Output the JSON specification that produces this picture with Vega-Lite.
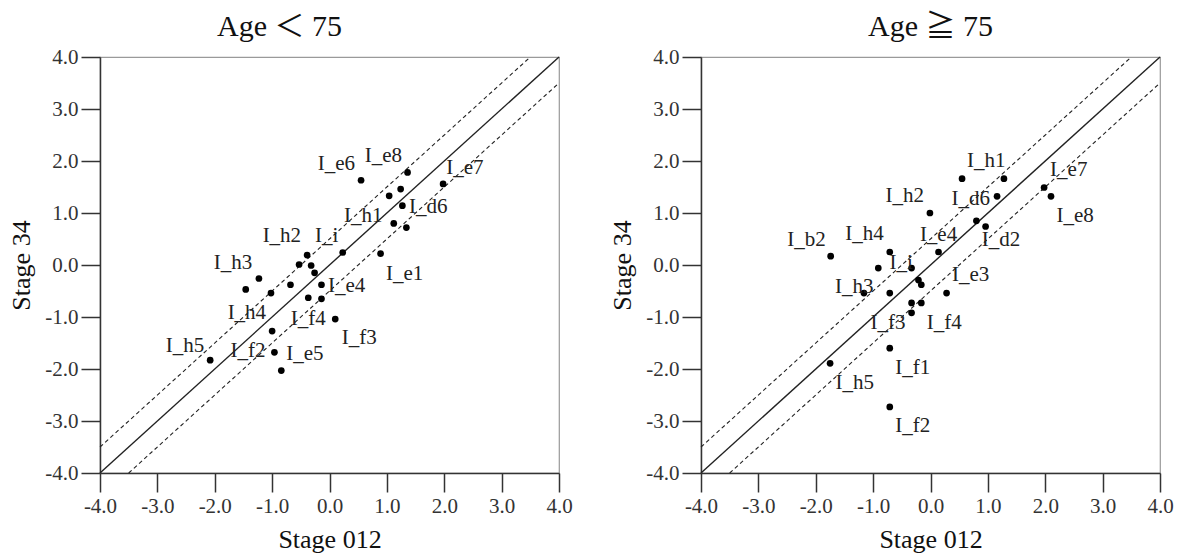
{
  "$schema": "https://vega.github.io/schema/vega-lite/v6.json",
  "background": "white",
  "padding": {"left": 8, "right": 5, "top": 11, "bottom": 3},
  "config": {
    "font": "Liberation Serif",
    "view": {"stroke": "#9a9a9a", "strokeWidth": 1.2},
    "axis": {"grid": false, "labelFlush": false, "labelExpr": "replace(datum.label, '−', '-')", "domainColor": "#333", "tickColor": "#333", "tickSize": 19, "tickWidth": 1.5, "domainWidth": 1.5, "labelFontSize": 21, "labelColor": "#333", "labelFont": "Liberation Serif", "labelPadding": 3, "titleFontSize": 26, "titleFontWeight": "normal", "titleColor": "#111", "titleFont": "Liberation Serif"},
    "axisX": {"titlePadding": 10},
    "axisY": {"titlePadding": 10},
    "title": {"font": "Liberation Serif, Noto Sans CJK TC", "fontSize": 30, "fontWeight": "normal", "color": "#111", "offset": 0},
    "concat": {"spacing": 36}
  },
  "datasets": {
    "lines": [
      {"line": "y=x", "x": -4, "y": -4}, {"line": "y=x", "x": 4, "y": 4},
      {"line": "y=x+0.5", "x": -4, "y": -3.5}, {"line": "y=x+0.5", "x": 3.5, "y": 4},
      {"line": "y=x-0.5", "x": -3.5, "y": -4}, {"line": "y=x-0.5", "x": 4, "y": 3.5}
    ],
    "points": [
      {"group": "lt75", "x": 0.55, "y": 1.63}, {"group": "lt75", "x": 1.36, "y": 1.78}, {"group": "lt75", "x": 1.24, "y": 1.46},
      {"group": "lt75", "x": 1.04, "y": 1.33}, {"group": "lt75", "x": 1.98, "y": 1.56}, {"group": "lt75", "x": 1.27, "y": 1.14},
      {"group": "lt75", "x": 1.12, "y": 0.80}, {"group": "lt75", "x": 1.34, "y": 0.72}, {"group": "lt75", "x": 0.89, "y": 0.22},
      {"group": "lt75", "x": 0.23, "y": 0.24}, {"group": "lt75", "x": -0.39, "y": 0.19}, {"group": "lt75", "x": -0.53, "y": 0.01},
      {"group": "lt75", "x": -0.32, "y": -0.01}, {"group": "lt75", "x": -0.26, "y": -0.15}, {"group": "lt75", "x": -1.23, "y": -0.26},
      {"group": "lt75", "x": -1.46, "y": -0.47}, {"group": "lt75", "x": -0.68, "y": -0.38}, {"group": "lt75", "x": -0.14, "y": -0.38},
      {"group": "lt75", "x": -1.02, "y": -0.54}, {"group": "lt75", "x": -0.37, "y": -0.63}, {"group": "lt75", "x": -0.14, "y": -0.65},
      {"group": "lt75", "x": 0.10, "y": -1.04}, {"group": "lt75", "x": -1.00, "y": -1.27}, {"group": "lt75", "x": -0.96, "y": -1.68},
      {"group": "lt75", "x": -2.08, "y": -1.83}, {"group": "lt75", "x": -0.84, "y": -2.03},
      {"group": "ge75", "x": 0.55, "y": 1.66}, {"group": "ge75", "x": 1.28, "y": 1.66}, {"group": "ge75", "x": 1.16, "y": 1.32},
      {"group": "ge75", "x": 1.98, "y": 1.49}, {"group": "ge75", "x": 2.10, "y": 1.32}, {"group": "ge75", "x": -0.01, "y": 1.00},
      {"group": "ge75", "x": 0.80, "y": 0.85}, {"group": "ge75", "x": 0.96, "y": 0.74}, {"group": "ge75", "x": -1.74, "y": 0.17},
      {"group": "ge75", "x": -0.71, "y": 0.25}, {"group": "ge75", "x": 0.14, "y": 0.25}, {"group": "ge75", "x": -0.91, "y": -0.06},
      {"group": "ge75", "x": -0.33, "y": -0.06}, {"group": "ge75", "x": -0.21, "y": -0.29}, {"group": "ge75", "x": -0.16, "y": -0.38},
      {"group": "ge75", "x": -1.16, "y": -0.54}, {"group": "ge75", "x": -0.71, "y": -0.54}, {"group": "ge75", "x": 0.28, "y": -0.54},
      {"group": "ge75", "x": -0.33, "y": -0.73}, {"group": "ge75", "x": -0.16, "y": -0.73}, {"group": "ge75", "x": -0.33, "y": -0.92},
      {"group": "ge75", "x": -0.71, "y": -1.60}, {"group": "ge75", "x": -1.75, "y": -1.89}, {"group": "ge75", "x": -0.71, "y": -2.73}
    ],
    "labels": [
      {"group": "lt75", "label": "I_e6", "x": 0.12, "y": 1.94}, {"group": "lt75", "label": "I_e8", "x": 0.94, "y": 2.10},
      {"group": "lt75", "label": "I_e7", "x": 2.36, "y": 1.87}, {"group": "lt75", "label": "I_d6", "x": 1.72, "y": 1.12},
      {"group": "lt75", "label": "I_h1", "x": 0.59, "y": 0.94}, {"group": "lt75", "label": "I_i", "x": -0.05, "y": 0.56},
      {"group": "lt75", "label": "I_h2", "x": -0.83, "y": 0.56}, {"group": "lt75", "label": "I_h3", "x": -1.68, "y": 0.04},
      {"group": "lt75", "label": "I_h4", "x": -1.44, "y": -0.92}, {"group": "lt75", "label": "I_e4", "x": 0.30, "y": -0.40},
      {"group": "lt75", "label": "I_f4", "x": -0.37, "y": -1.03}, {"group": "lt75", "label": "I_e1", "x": 1.31, "y": -0.17},
      {"group": "lt75", "label": "I_f3", "x": 0.52, "y": -1.41}, {"group": "lt75", "label": "I_h5", "x": -2.52, "y": -1.56},
      {"group": "lt75", "label": "I_f2", "x": -1.42, "y": -1.65}, {"group": "lt75", "label": "I_e5", "x": -0.43, "y": -1.72},
      {"group": "ge75", "label": "I_h1", "x": 0.97, "y": 2.00}, {"group": "ge75", "label": "I_e7", "x": 2.41, "y": 1.82},
      {"group": "ge75", "label": "I_e8", "x": 2.52, "y": 0.94}, {"group": "ge75", "label": "I_h2", "x": -0.45, "y": 1.33},
      {"group": "ge75", "label": "I_d6", "x": 0.70, "y": 1.26}, {"group": "ge75", "label": "I_d2", "x": 1.23, "y": 0.48},
      {"group": "ge75", "label": "I_b2", "x": -2.16, "y": 0.49}, {"group": "ge75", "label": "I_h4", "x": -1.15, "y": 0.59},
      {"group": "ge75", "label": "I_e4", "x": 0.14, "y": 0.57}, {"group": "ge75", "label": "I_i", "x": -0.51, "y": 0.03},
      {"group": "ge75", "label": "I_h3", "x": -1.33, "y": -0.42}, {"group": "ge75", "label": "I_e3", "x": 0.70, "y": -0.20},
      {"group": "ge75", "label": "I_f3", "x": -0.74, "y": -1.11}, {"group": "ge75", "label": "I_f4", "x": 0.24, "y": -1.12},
      {"group": "ge75", "label": "I_f1", "x": -0.31, "y": -1.99}, {"group": "ge75", "label": "I_h5", "x": -1.32, "y": -2.26},
      {"group": "ge75", "label": "I_f2", "x": -0.31, "y": -3.10}
    ]
  },
  "hconcat": [
    {
      "width": 459, "height": 416,
      "title": {"text": "Age ＜ 75", "dx": -50},
      "layer": [
        {"data": {"name": "lines"}, "transform": [{"filter": "datum.line == 'y=x'"}],
         "mark": {"type": "line", "color": "#222", "strokeWidth": 1.4},
         "encoding": {
           "x": {"field": "x", "type": "quantitative", "title": "Stage 012", "scale": {"domain": [-4, 4], "nice": false, "zero": false}, "axis": {"values": [-4, -3, -2, -1, 0, 1, 2, 3, 4], "format": ".1f"}},
           "y": {"field": "y", "type": "quantitative", "title": "Stage 34", "scale": {"domain": [-4, 4], "nice": false, "zero": false}, "axis": {"values": [-4, -3, -2, -1, 0, 1, 2, 3, 4], "format": ".1f"}},
           "detail": {"field": "line"}}},
        {"data": {"name": "lines"}, "transform": [{"filter": "datum.line != 'y=x'"}],
         "mark": {"type": "line", "color": "#222", "strokeWidth": 1.1, "strokeDash": [4, 3]},
         "encoding": {"x": {"field": "x", "type": "quantitative"}, "y": {"field": "y", "type": "quantitative"}, "detail": {"field": "line"}}},
        {"data": {"name": "points"}, "transform": [{"filter": "datum.group == 'lt75'"}],
         "mark": {"type": "circle", "size": 45, "color": "black", "opacity": 1},
         "encoding": {"x": {"field": "x", "type": "quantitative"}, "y": {"field": "y", "type": "quantitative"}}},
        {"data": {"name": "labels"}, "transform": [{"filter": "datum.group == 'lt75'"}],
         "mark": {"type": "text", "fontSize": 21, "color": "#222", "font": "Liberation Serif", "align": "center", "baseline": "middle"},
         "encoding": {"x": {"field": "x", "type": "quantitative"}, "y": {"field": "y", "type": "quantitative"}, "text": {"field": "label"}}}
      ]
    },
    {
      "width": 459, "height": 416,
      "title": "Age ≧ 75",
      "layer": [
        {"data": {"name": "lines"}, "transform": [{"filter": "datum.line == 'y=x'"}],
         "mark": {"type": "line", "color": "#222", "strokeWidth": 1.4},
         "encoding": {
           "x": {"field": "x", "type": "quantitative", "title": "Stage 012", "scale": {"domain": [-4, 4], "nice": false, "zero": false}, "axis": {"values": [-4, -3, -2, -1, 0, 1, 2, 3, 4], "format": ".1f"}},
           "y": {"field": "y", "type": "quantitative", "title": "Stage 34", "scale": {"domain": [-4, 4], "nice": false, "zero": false}, "axis": {"values": [-4, -3, -2, -1, 0, 1, 2, 3, 4], "format": ".1f"}},
           "detail": {"field": "line"}}},
        {"data": {"name": "lines"}, "transform": [{"filter": "datum.line != 'y=x'"}],
         "mark": {"type": "line", "color": "#222", "strokeWidth": 1.1, "strokeDash": [4, 3]},
         "encoding": {"x": {"field": "x", "type": "quantitative"}, "y": {"field": "y", "type": "quantitative"}, "detail": {"field": "line"}}},
        {"data": {"name": "points"}, "transform": [{"filter": "datum.group == 'ge75'"}],
         "mark": {"type": "circle", "size": 45, "color": "black", "opacity": 1},
         "encoding": {"x": {"field": "x", "type": "quantitative"}, "y": {"field": "y", "type": "quantitative"}}},
        {"data": {"name": "labels"}, "transform": [{"filter": "datum.group == 'ge75'"}],
         "mark": {"type": "text", "fontSize": 21, "color": "#222", "font": "Liberation Serif", "align": "center", "baseline": "middle"},
         "encoding": {"x": {"field": "x", "type": "quantitative"}, "y": {"field": "y", "type": "quantitative"}, "text": {"field": "label"}}}
      ]
    }
  ]
}
